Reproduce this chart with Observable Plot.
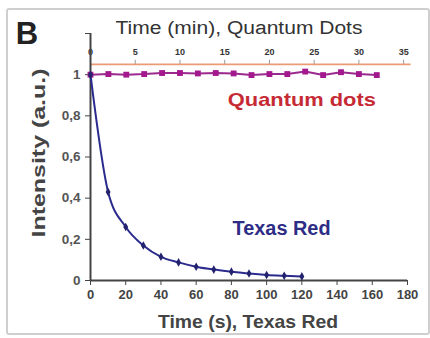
<!DOCTYPE html>
<html>
<head>
<meta charset="utf-8">
<script src="https://cdn.jsdelivr.net/npm/d3@7"></script>
<script src="https://cdn.jsdelivr.net/npm/@observablehq/plot@0.6"></script>
<style>
  html, body { margin: 0; padding: 0; background: #fff; }
  #wrap { position: relative; width: 430px; height: 338px; }
  #border { position: absolute; left: 6px; top: 8px; width: 420px; height: 323px;
            border: 2px solid #cfcfcf; border-radius: 3px; pointer-events: none; }
</style>
</head>
<body>
<div id="wrap"><div id="border"></div></div>
<script>
// Texas Red: time in seconds, normalized intensity
const trTime = [0, 10, 20, 30, 40, 50, 60, 70, 80, 90, 100, 110, 120];
const trIntensity = [1.0, 0.43, 0.26, 0.17, 0.115, 0.088, 0.067, 0.053, 0.043, 0.034, 0.027, 0.023, 0.02];

// Quantum dots: time in minutes, normalized intensity
const qdTime = [0, 2, 4, 6, 8, 10, 12, 14, 16, 18, 20, 22, 24, 26, 28, 30, 32];
const qdIntensity = [1.0, 1.003, 1.0, 1.003, 1.008, 1.008, 1.006, 1.008, 1.006, 0.998, 1.003, 1.003, 1.015, 0.998, 1.012, 1.003, 0.998];

// axes
const xTicksSec = [0, 20, 40, 60, 80, 100, 120, 140, 160, 180];
const yTicks = [0, 0.2, 0.4, 0.6, 0.8, 1, 1.2];
const topTicksMin = [0, 5, 10, 15, 20, 25, 30, 35];
const MIN_TO_AXIS = 5.08;   // minutes on the top axis -> bottom-axis units
const TOP_AXIS_Y = 1.05;

const tr = trTime.map((t, i) => ({t, v: trIntensity[i]}));
const qd = qdTime.map((t, i) => ({t: t * MIN_TO_AXIS, v: qdIntensity[i]}));

const fmtY = d => d === 1.2 ? "" : (d === 0 || d === 1 ? String(d) : d.toFixed(1).replace(".", ","));

const chart = Plot.plot({
  width: 430,
  height: 338,
  marginLeft: 90,
  marginRight: 23,
  marginTop: 33,
  marginBottom: 58,
  style: {fontFamily: "Liberation Sans, Arial, sans-serif", background: "transparent", overflow: "visible"},
  x: {domain: [0, 180]},
  y: {domain: [0, 1.2]},
  marks: [
    // top (quantum dots) axis line
    Plot.ruleY([TOP_AXIS_Y], {x1: 0, x2: 182, stroke: "#ec9a74", strokeWidth: 1.8}),
    Plot.ruleX(topTicksMin, {x: d => d * MIN_TO_AXIS, y1: TOP_AXIS_Y, y2: TOP_AXIS_Y + 0.02, stroke: "#999", strokeWidth: 1}),
    Plot.text(topTicksMin, {x: d => d * MIN_TO_AXIS, y: TOP_AXIS_Y, dy: -12, text: d => String(d),
      fontSize: 9, fontWeight: "bold", fill: "#333"}),
    // bottom axis
    Plot.axisX({ticks: xTicksSec, tickSize: 5, tickPadding: 4, fontSize: 13, fontWeight: "bold",
      color: "#444", stroke: "#444", label: null}),
    Plot.axisY({ticks: yTicks, tickSize: 5, tickPadding: 5, fontSize: 13.5, fontWeight: "bold",
      color: "#555", stroke: "#444", tickFormat: fmtY, label: null}),
    Plot.ruleY([0], {stroke: "#444", strokeWidth: 2}),
    Plot.ruleX([0], {y1: 0, y2: 1.2, stroke: "#444", strokeWidth: 2}),
    // quantum dots series
    Plot.line(qd, {x: "t", y: "v", stroke: "#9b2a8f", strokeWidth: 2}),
    Plot.dot(qd, {x: "t", y: "v", symbol: "square", r: 3.3, fill: "#a3198d"}),
    // texas red series
    Plot.line(tr, {x: "t", y: "v", stroke: "#2b2b8e", strokeWidth: 2, curve: "monotone-x"}),
    Plot.dot(tr, {x: "t", y: "v", symbol: "diamond", r: 2.6, fill: "#22226e"}),
    // labels
    Plot.text(["Quantum dots"], {x: 120, y: 0.875, fontSize: 19, fontWeight: "bold", fill: "#c62a34"}),
    Plot.text(["Texas Red"], {x: 108.5, y: 0.25, fontSize: 19.5, fontWeight: "bold", fill: "#2d2d85"}),
    Plot.text(["Time (min), Quantum Dots"], {frameAnchor: "top", dx: -10, dy: -12, fontSize: 18, fill: "#333"}),
    Plot.text(["Time (s), Texas Red"], {frameAnchor: "bottom", dx: -1, dy: 47, fontSize: 19, fontWeight: "bold", fill: "#444"}),
    Plot.text(["Intensity (a.u.)"], {frameAnchor: "left", textAnchor: "middle", rotate: -90, dx: -52, dy: -4,
      fontSize: 19, fontWeight: "bold", fill: "#444"}),
    Plot.text(["B"], {frameAnchor: "top-left", textAnchor: "middle", lineAnchor: "middle", dx: -63.5, dy: 0.5,
      fontSize: 31, fontWeight: "bold", fill: "#222"})
  ]
});

// stretch a few titles to the extents they have in the picture
const lengths = {
  "Time (min), Quantum Dots": 247,
  "Time (s), Texas Red": 180,
  "Intensity (a.u.)": 169,
  "Quantum dots": 148,
  "Texas Red": 98
};
chart.querySelectorAll("text").forEach(t => {
  const L = lengths[t.textContent];
  if (L) { t.setAttribute("textLength", L); t.setAttribute("lengthAdjust", "spacingAndGlyphs"); }
});
document.getElementById("wrap").prepend(chart);
</script>
</body>
</html>
